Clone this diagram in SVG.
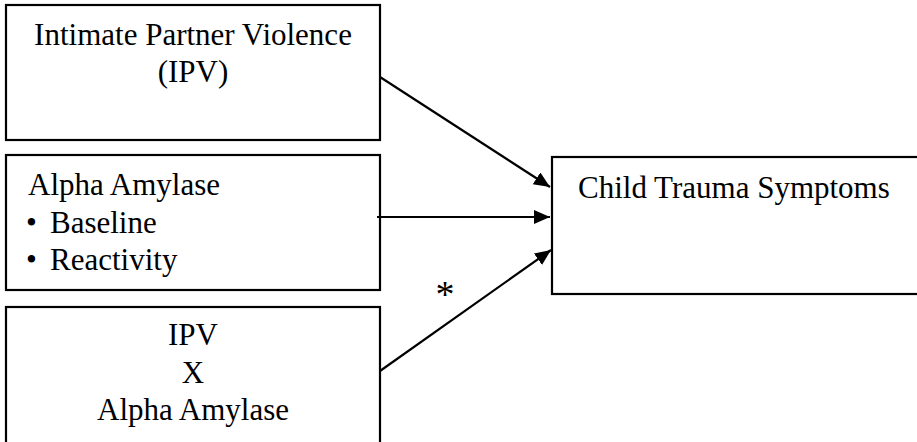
<svg xmlns="http://www.w3.org/2000/svg" width="917" height="442" viewBox="0 0 917 442">
<style>
.box{fill:#fff;stroke:#000;stroke-width:2.2}
.t{font-family:"Liberation Serif","Times New Roman",serif;font-size:31px;fill:#000}
.c{text-anchor:middle}
.conn{stroke:#000;stroke-width:2.2;fill:none}
</style>
<defs>
<marker id="ah" markerUnits="userSpaceOnUse" markerWidth="20" markerHeight="16" refX="16" refY="7" orient="auto">
<path d="M0,0 L16,7 L0,14 Z" fill="#000"/>
</marker>
</defs>
<rect width="917" height="442" fill="#fff"/>
<g id="ipv">
<rect class="box" x="6" y="5" width="374" height="135"/>
<text class="t c" x="193" y="45">Intimate Partner Violence</text>
<text class="t c" x="193" y="82">(IPV)</text>
</g>
<g id="amylase">
<rect class="box" x="6" y="155" width="374" height="135"/>
<text class="t" x="28" y="195">Alpha Amylase</text>
<text class="t" x="26" y="233">•</text>
<text class="t" x="50" y="233">Baseline</text>
<text class="t" x="26" y="270">•</text>
<text class="t" x="50" y="270">Reactivity</text>
</g>
<g id="interaction">
<rect class="box" x="6" y="307" width="374" height="150"/>
<text class="t c" x="193" y="345">IPV</text>
<text class="t c" x="193" y="383">X</text>
<text class="t c" x="193" y="420">Alpha Amylase</text>
</g>
<g id="outcome">
<rect class="box" x="552" y="157" width="380" height="137"/>
<text class="t" x="578" y="198">Child Trauma Symptoms</text>
</g>
<g id="connectors">
<line class="conn" x1="380" y1="77" x2="550" y2="187" marker-end="url(#ah)"/>
<line class="conn" x1="377" y1="217" x2="550" y2="217" marker-end="url(#ah)"/>
<line class="conn" x1="380" y1="371" x2="551" y2="250" marker-end="url(#ah)"/>
<text class="t c" x="445" y="307" style="font-size:38px">*</text>
</g>
</svg>
